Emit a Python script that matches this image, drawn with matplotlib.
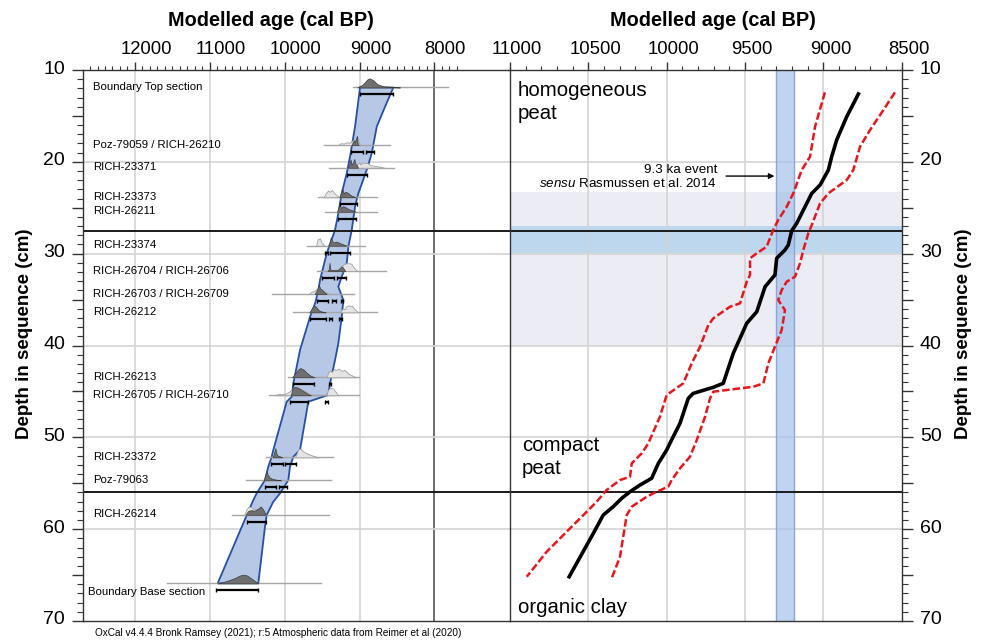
import matplotlib
matplotlib.use("Agg")
import matplotlib.pyplot as plt
import numpy as np
from matplotlib.patches import Polygon
from matplotlib.transforms import ScaledTranslation

plt.rcParams['font.family'] = ['Liberation Sans', 'DejaVu Sans']
plt.rcParams['mathtext.fontset'] = 'custom'
plt.rcParams['mathtext.rm'] = 'Liberation Sans'
plt.rcParams['mathtext.it'] = 'Liberation Sans:italic'

# ---------------- OxCal depth model (left panel) ----------------
sample_labels = [
    "Boundary Top section", "Poz-79059 / RICH-26210", "RICH-23371", "RICH-23373",
    "RICH-26211", "RICH-23374", "RICH-26704 / RICH-26706", "RICH-26703 / RICH-26709",
    "RICH-26212", "RICH-26213", "RICH-26705 / RICH-26710", "RICH-23372",
    "Poz-79063", "RICH-26214", "Boundary Base section",
]
sample_depths = [11.9, 18.17, 20.64, 23.86, 25.43, 29.13, 31.89, 34.39,
                 36.39, 43.46, 45.42, 52.18, 54.68, 58.43, 65.9]

# extent of the grey baseline of each distribution (older, younger), cal BP
baseline_spans = [(9083, 7813), (9474, 8592), (9407, 8539), (9554, 8766), (9461, 8766),
                  (9705, 8926), (9568, 8645), (10169, 9073), (9888, 8766), (9955, 9007),
                  (10209, 9007), (10253, 9358), (10517, 9385), (10704, 9407), (11572, 9514)]

# 95.4% highest posterior density ranges
hpd_ranges = [
    [(9000, 8556)],
    [(9111, 8956), (8911, 8813)],
    [(9164, 8903)],
    [(9267, 9036)],
    [(9289, 9044)],
    [(9457, 9423), (9391, 9133)],
    [(9497, 9347), (9303, 9177)],
    [(9569, 9423), (9369, 9311), (9253, 9223)],
    [(9667, 9444), (9409, 9364), (9276, 9236)],
    [(9889, 9609), (9409, 9387)],
    [(9924, 9689), (9467, 9423)],
    [(10178, 10022), (9991, 9853)],
    [(10257, 10120), (10076, 9969)],
    [(10503, 10244)],
    [(10911, 10356)],
]

# modelled (posterior) probability distributions: (age, relative height)
posterior_curves = [
    [(9030, 0), (8960, 0.3), (8900, 0.85), (8867, 1.0), (8820, 0.8), (8760, 0.35),
     (8680, 0.12), (8560, 0.04), (8460, 0)],
    [(9110, 0), (9090, 0.3), (9075, 0.5), (9065, 0.3), (9050, 0.6), (9035, 1.0),
     (9025, 0.2), (9010, 0)],
    [(9170, 0), (9140, 0.25), (9120, 0.9), (9105, 0.3), (9090, 0.5), (9070, 0.95),
     (9055, 0.4), (9040, 0.3), (9020, 0)],
    [(9270, 0), (9245, 0.5), (9230, 0.9), (9210, 0.4), (9190, 0.6), (9160, 0.5),
     (9130, 0.3), (9100, 0.15), (9050, 0)],
    [(9300, 0), (9280, 0.5), (9265, 0.8), (9245, 0.4), (9220, 0.6), (9190, 0.5),
     (9150, 0.3), (9100, 0.15), (9050, 0)],
    [(9420, 0), (9400, 0.3), (9385, 0.9), (9365, 0.5), (9340, 0.35), (9310, 0.45),
     (9280, 0.35), (9240, 0.2), (9170, 0)],
    [(9430, 0), (9410, 0.2), (9400, 0.9), (9392, 0.2), (9360, 0.1), (9300, 0.1),
     (9260, 0.3), (9235, 0.5), (9215, 0.3), (9190, 0)],
    [(9600, 0), (9570, 0.4), (9545, 1.0), (9525, 0.6), (9500, 0.45), (9470, 0.2),
     (9440, 0)],
    [(9670, 0), (9640, 0.4), (9610, 0.75), (9580, 0.6), (9550, 0.25), (9510, 0.1),
     (9450, 0)],
    [(9900, 0), (9860, 0.4), (9820, 0.85), (9790, 1.0), (9750, 0.85), (9700, 0.45),
     (9650, 0.15), (9600, 0)],
    [(9920, 0), (9895, 0.7), (9870, 0.9), (9830, 0.85), (9780, 0.6), (9730, 0.35),
     (9680, 0.1), (9650, 0)],
    [(10160, 0), (10140, 0.5), (10125, 1.0), (10110, 0.4), (10090, 0.15),
     (10060, 0.1), (10030, 0)],
    [(10280, 0), (10260, 0.5), (10245, 1.0), (10225, 0.6), (10200, 0.3),
     (10160, 0.15), (10100, 0.05), (10050, 0)],
    [(10520, 0), (10490, 0.4), (10450, 0.5), (10400, 0.45), (10350, 0.7),
     (10320, 0.9), (10290, 0.6), (10250, 0)],
    [(10900, 0), (10820, 0.15), (10740, 0.35), (10660, 0.6), (10600, 0.85),
     (10550, 0.95), (10500, 0.85), (10440, 0.5), (10380, 0.15), (10350, 0)],
]

# unmodelled (calibrated) distributions
prior_curves = [
    None,
    [(9290, 0), (9250, 0.2), (9210, 0.15), (9170, 0.3), (9130, 0.25), (9100, 0.45),
     (9070, 0.6), (9050, 0.5), (9030, 0.9), (9010, 0.3), (8990, 0)],
    [(9060, 0), (9030, 0.4), (9010, 0.6), (8985, 0.35), (8960, 0.6), (8930, 0.5),
     (8900, 0.55), (8860, 0.3), (8800, 0.2), (8720, 0.1), (8670, 0)],
    [(9480, 0), (9450, 0.45), (9420, 0.75), (9395, 0.6), (9370, 0.8), (9340, 0.5),
     (9300, 0.15), (9260, 0)],
    None,
    [(9580, 0), (9560, 0.7), (9530, 0.8), (9505, 0.3), (9490, 0.2), (9470, 0)],
    [(9280, 0), (9260, 0.5), (9240, 0.45), (9220, 0.7), (9180, 0.85), (9140, 0.85),
     (9110, 0.8), (9070, 0.3), (9030, 0)],
    [(9680, 0), (9640, 0.25), (9610, 0.3), (9580, 0.5), (9540, 0.6), (9500, 0.4),
     (9450, 0.15), (9400, 0)],
    [(9260, 0), (9240, 0.3), (9220, 0.4), (9195, 0.35), (9175, 0.7), (9140, 0.75),
     (9100, 0.7), (9060, 0.3), (9020, 0)],
    [(9440, 0), (9420, 0.5), (9400, 0.7), (9370, 0.6), (9340, 0.9), (9310, 0.8),
     (9280, 0.95), (9240, 0.7), (9200, 0.8), (9150, 0.4), (9100, 0.2), (9050, 0)],
    [(10120, 0), (10080, 0.15), (10040, 0.1), (9980, 0.2), (9920, 0.5), (9870, 0.9),
     (9820, 0.85), (9760, 0.6), (9700, 0.3), (9640, 0.05), (9440, 0.05), (9420, 0.6),
     (9390, 0.85), (9350, 0.7), (9310, 0.3), (9290, 0)],
    [(9860, 0), (9840, 0.4), (9820, 0.9), (9790, 0.95), (9760, 0.7), (9720, 0.5),
     (9680, 0.35), (9630, 0.2), (9570, 0.05), (9550, 0)],
    None,
    [(10540, 0), (10510, 0.6), (10480, 0.9), (10440, 0.8), (10400, 0.6),
     (10350, 0.5), (10300, 0.2), (10250, 0)],
    None,
]

# 95.4% envelope of the age-depth model
envelope_old_age = [8993, 9060, 9127, 9171, 9238, 9283, 9327, 9438, 9528, 9550, 9594,
                    9661, 9795, 9884, 9906, 9973, 10152, 10173, 10219, 10263, 10374,
                    10419, 10553, 10895]
envelope_old_depth = [11.9, 16.17, 19.44, 21.25, 23.43, 25.6, 27.42, 29.96, 32.87, 33.96,
                      35.41, 36.87, 40.49, 44.12, 45.58, 46.12, 51.38, 52.11, 53.2, 54.65,
                      56.1, 56.83, 59.36, 65.9]
envelope_young_age = [8548, 8659, 8770, 8837, 8904, 9016, 9060, 9104, 9149, 9171, 9238,
                      9283, 9216, 9238, 9283, 9327, 9394, 9417, 9684, 9795, 9884, 9929,
                      9951, 10062, 10152, 10240, 10263, 10352]
envelope_young_depth = [11.9, 14.0, 16.17, 19.07, 20.89, 23.43, 24.89, 27.42, 29.24,
                        31.05, 32.51, 33.6, 35.05, 36.87, 39.76, 41.58, 44.12, 45.39,
                        46.12, 51.38, 52.11, 53.2, 54.65, 56.1, 57.01, 58.46, 59.73, 65.9]

# ---------------- age-depth curves (right panel) ----------------
median_age = [8771, 8851, 8915, 8947, 8968, 9021, 9074, 9117, 9170, 9202, 9224, 9245,
              9298, 9309, 9372, 9425, 9489, 9575, 9639, 9702, 9830, 9862, 9915, 9975,
              10000, 10053, 10096, 10170, 10234, 10287, 10341, 10405, 10468, 10628]
median_depth = [12.43, 15.09, 17.62, 19.44, 20.89, 22.52, 23.43, 24.89, 26.69, 27.5,
                29.06, 29.6, 30.51, 32.32, 33.6, 36.32, 37.58, 40.85, 44.12, 44.55,
                45.21, 45.75, 48.47, 50.5, 51.38, 52.83, 54.46, 55.19, 55.92, 56.64,
                57.55, 58.46, 60.45, 65.35]

old_bound_age = [8990, 9053, 9085, 9138, 9192, 9234, 9288, 9320, 9362, 9425, 9468, 9468,
                 9489, 9532, 9596, 9702, 9734, 9787, 9840, 9894, 10000, 10043, 10117,
                 10159, 10223, 10234, 10298, 10383, 10447, 10510, 10617, 10766, 10893]
old_bound_depth = [12.43, 16.17, 19.44, 20.89, 23.43, 24.89, 26.33, 27.42, 29.24, 29.96,
                   30.5, 32.32, 33.05, 35.41, 35.78, 37.04, 37.77, 40.13, 41.94, 44.12,
                   45.39, 47.75, 50.65, 51.74, 52.83, 54.29, 54.65, 55.74, 57.01, 58.1,
                   59.91, 62.46, 65.18]

young_bound_age = [8543, 8617, 8702, 8766, 8809, 8851, 8968, 9021, 9074, 9096, 9128,
                   9149, 9181, 9234, 9266, 9288, 9245, 9266, 9309, 9351, 9383, 9447,
                   9702, 9723, 9755, 9808, 9851, 9915, 9968, 9990, 10064, 10128, 10223,
                   10255, 10298, 10351]
young_bound_depth = [12.43, 14.36, 16.53, 18.35, 20.89, 21.98, 23.43, 24.52, 26.88,
                     27.78, 29.6, 31.05, 32.51, 33.05, 33.96, 35.05, 36.14, 38.32, 40.13,
                     41.94, 44.12, 44.49, 45.03, 45.75, 47.75, 50.29, 52.11, 53.37,
                     54.65, 55.38, 55.92, 56.47, 57.55, 58.46, 63.0, 65.35]

unit_boundaries = [27.5, 56.0]          # lithological contacts (cm)
event_ages = (9300, 9187)               # 9.3 ka event, cal BP
event_depths = (27.0, 29.95)            # depth of the event in the sequence
hiatus_depths = (23.3, 40.0)            # shaded interval

left_xticks = [12000, 11000, 10000, 9000, 8000]
right_xticks = [11000, 10500, 10000, 9500, 9000, 8500]

# ---------------- figure ----------------
W, H = 983, 640
fig = plt.figure(figsize=(W / 100, H / 100), dpi=100)


def px_box(x0, x1, y0, y1):
    return [x0 / W, 1 - y1 / H, (x1 - x0) / W, (y1 - y0) / H]


axL = fig.add_axes(px_box(83.3, 510, 70, 621))
axR = fig.add_axes(px_box(510, 901.7, 70, 621))

SPINE = '#333333'
GRID = '#d4d4d4'

for ax in (axL, axR):
    ax.set_ylim(70, 10)
    for s in ax.spines.values():
        s.set_color(SPINE)
        s.set_linewidth(1.0)
    ax.xaxis.tick_top()
    ax.set_yticks(np.arange(10, 71, 5))
    ax.set_yticklabels([str(v) if v % 10 == 0 else '' for v in range(10, 71, 5)])
    ax.set_yticks(np.arange(10, 71, 1), minor=True)
    ax.tick_params(axis='y', which='major', direction='out', length=8, width=1.0,
                   color=SPINE, labelsize=14, pad=5)
    ax.tick_params(axis='y', which='minor', direction='out', length=4, width=0.8,
                   color=SPINE)
    ax.tick_params(axis='x', which='major', direction='out', length=6, width=1.0,
                   color=SPINE, labelsize=13.3, pad=3)
    ax.tick_params(axis='x', which='minor', direction='out', length=3, width=0.8,
                   color=SPINE)

axL.set_xlim(12690, 6990)
axR.set_xlim(11000, 8500)
axL.spines['right'].set_visible(False)
axR.yaxis.tick_right()

axL.set_xticks(left_xticks)
axL.set_xticklabels([str(v) for v in left_xticks])
axL.set_xticks(np.arange(12600, 7650, -100), minor=True)
axR.set_xticks(right_xticks)
axR.set_xticklabels([str(v) for v in right_xticks])
axR.set_xticks(np.arange(11000, 8499, -100), minor=True)

# grid
for v in [12000, 11000, 10000, 9000]:
    axL.axvline(v, color=GRID, lw=1.2, zorder=0.8)
axL.axvline(8000, color='#444444', lw=1.1, zorder=0.8)
for v in [10500, 10000, 9500, 9000]:
    axR.axvline(v, color=GRID, lw=1.2, zorder=0.8)
for ax in (axL, axR):
    for d in [20, 30, 40, 50, 60]:
        ax.axhline(d, color=GRID, lw=1.2, zorder=0.8)
    for d in unit_boundaries:
        ax.axhline(d, color='#1a1a1a', lw=1.4, zorder=2.5)

# ---- left panel: envelope, distributions, ranges ----
env = list(zip(envelope_old_age, envelope_old_depth)) + \
    list(zip(envelope_young_age[::-1], envelope_young_depth[::-1]))
axL.add_patch(Polygon(env, closed=True, facecolor='#b7c7e6', edgecolor='#2451a6',
                      lw=1.3, zorder=1))

HSCALE = 1.0
for i, lab in enumerate(sample_labels):
    d = sample_depths[i]
    b0, b1 = baseline_spans[i]
    axL.plot([b0, b1], [d, d], color='#a6a6a6', lw=1.0, zorder=2)
    pr = prior_curves[i]
    if pr is not None:
        a = [p[0] for p in pr]
        h = [d - HSCALE * p[1] for p in pr]
        axL.fill_between(a, d, h, facecolor='#e4e4e4', edgecolor='#a0a0a0', lw=0.6,
                         zorder=3)
    po = posterior_curves[i]
    a = [p[0] for p in po]
    h = [d - HSCALE * p[1] for p in po]
    axL.fill_between(a, d, h, facecolor='#6f6f6f', edgecolor='#3c3c3c', lw=0.5,
                     zorder=4)
    yb = d + 0.75
    for r0, r1 in hpd_ranges[i]:
        axL.plot([r0, r1], [yb, yb], color='black', lw=1.6, solid_capstyle='butt',
                 zorder=5)
        axL.plot([r0, r1], [yb, yb], ls='none', marker='|', ms=3, mew=1.0,
                 color='black', zorder=5)
    if lab.startswith('Boundary Base'):
        axL.text(12628, 66.81, lab, fontsize=8.2, va='center', ha='left', zorder=6)
    else:
        axL.text(12561, d - 0.05, lab, fontsize=8.2, va='center', ha='left', zorder=6)

# ---- right panel ----
axR.axhspan(*hiatus_depths, facecolor='#ececf5', edgecolor='none', zorder=0.5)
axR.axhspan(*event_depths, facecolor='#bdd7ee', edgecolor='none', zorder=0.6)
axR.axvspan(*event_ages, facecolor='#a4c2ea', alpha=0.7, edgecolor='none', zorder=1.2)
for a in event_ages:
    axR.axvline(a, color='#8aa6d8', lw=1.0, zorder=1.3)

axR.plot(old_bound_age, old_bound_depth, color='#e8151b', lw=1.8, ls=(0, (3, 1.2)),
         zorder=3)
axR.plot(young_bound_age, young_bound_depth, color='#e8151b', lw=1.8,
         ls=(0, (3, 1.2)), zorder=3)
axR.plot(median_age, median_depth, color='black', lw=2.6, solid_joinstyle='round',
         solid_capstyle='butt', zorder=4)

axR.text(10950, 11.2, 'homogeneous\npeat', fontsize=14.7, va='top', ha='left',
         linespacing=1.25, zorder=6)
axR.text(10925, 49.9, 'compact\npeat', fontsize=14.7, va='top', ha='left',
         linespacing=1.25, zorder=6)
axR.text(10950, 69.6, 'organic clay', fontsize=14.7, va='bottom', ha='left', zorder=6)

axR.text(9679, 20.9, '9.3 ka event', fontsize=9.6, ha='right', va='center', zorder=6)
axR.text(9679, 22.35, r'$\it{sensu}$ Rasmussen et al. 2014', fontsize=9.6, ha='right',
         va='center', zorder=6)
axR.annotate('', xy=(9312, 21.55), xytext=(9621, 21.55),
             arrowprops=dict(arrowstyle='-|>', color='black', lw=1.0,
                             mutation_scale=8, shrinkA=0, shrinkB=0), zorder=6)

# shift tick labels so they sit like in the OxCal layout
for lab in axL.get_xticklabels():
    lab.set_transform(lab.get_transform() + ScaledTranslation(0.11, 0, fig.dpi_scale_trans))
for lab in axR.get_xticklabels():
    lab.set_transform(lab.get_transform() + ScaledTranslation(0.07, 0, fig.dpi_scale_trans))
for ax in (axL, axR):
    for lab in ax.get_yticklabels():
        lab.set_transform(lab.get_transform() + ScaledTranslation(0, 0.03, fig.dpi_scale_trans))

# titles and labels
fig.text(271 / W, 1 - 20 / H, 'Modelled age (cal BP)', fontsize=14.3, fontweight='bold',
         ha='center', va='center')
fig.text(713 / W, 1 - 20 / H, 'Modelled age (cal BP)', fontsize=14.3, fontweight='bold',
         ha='center', va='center')
fig.text(25 / W, 1 - 334 / H, 'Depth in sequence (cm)', fontsize=13.5, fontweight='bold',
         rotation=90, ha='center', va='center')
fig.text(963 / W, 1 - 334 / H, 'Depth in sequence (cm)', fontsize=13.5, fontweight='bold',
         rotation=90, ha='center', va='center')
fig.text(95 / W, 1 - 633 / H,
         'OxCal v4.4.4 Bronk Ramsey (2021); r:5 Atmospheric data from Reimer et al (2020)',
         fontsize=7.2, ha='left', va='center')

fig.savefig('out.png', dpi=100)
